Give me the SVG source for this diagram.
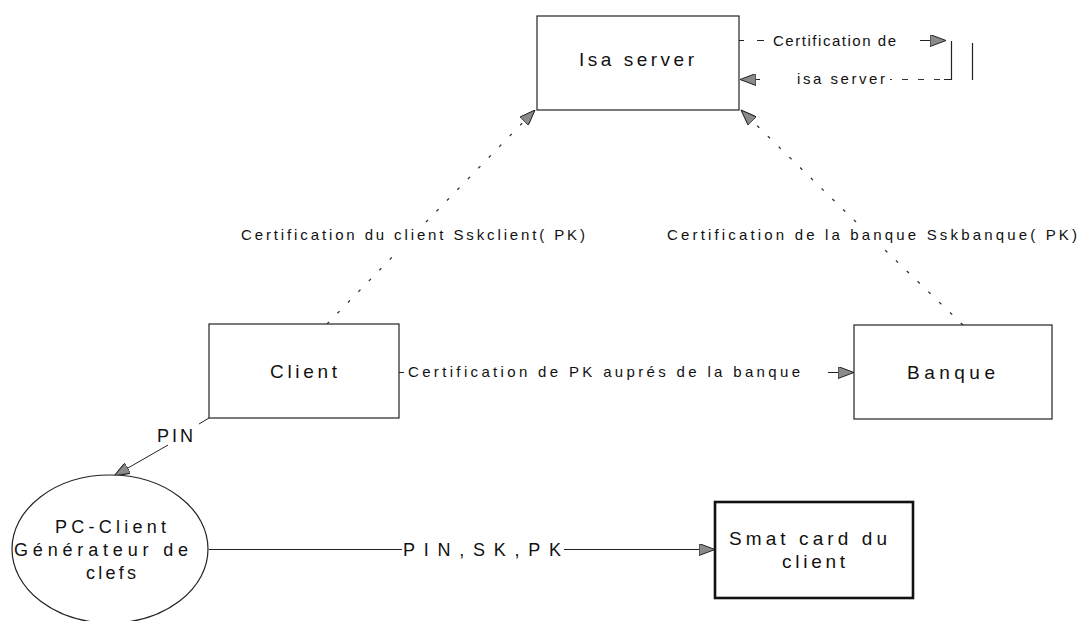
<svg xmlns="http://www.w3.org/2000/svg" width="1080" height="621" viewBox="0 0 1080 621">
<style>
.box{fill:#fff;stroke:#222;stroke-width:1.2}
.thick{fill:#fff;stroke:#111;stroke-width:2.6}
.node{font-family:"Liberation Sans",Arial,sans-serif;font-size:19px;fill:#111}
.lbl{font-family:"Liberation Sans",Arial,sans-serif;font-size:15px;fill:#111}
.big{font-family:"Liberation Sans",Arial,sans-serif;font-size:18px;fill:#111}
.solid{fill:none;stroke:#222;stroke-width:1}
.dash{fill:none;stroke:#333;stroke-width:1;stroke-dasharray:6,10}
.dot{fill:none;stroke:#333;stroke-width:1.3;stroke-dasharray:3,12}
</style>
<defs>
<marker id="ah" viewBox="0 0 16 12" refX="16" refY="6" markerWidth="16" markerHeight="12" markerUnits="userSpaceOnUse" orient="auto">
<path d="M0,0 L16,6 L0,12 Z" fill="#8a8a8a" stroke="#222" stroke-width="1"/>
</marker>
</defs>
<rect width="1080" height="621" fill="#fff"/>
<g id="connectors">
<!-- self loop on Isa server -->
<line class="solid" x1="739" y1="40.5" x2="744" y2="40.5"/>
<line class="solid" x1="757" y1="40.5" x2="764" y2="40.5"/>
<line class="solid" x1="920" y1="40.5" x2="946" y2="40.5" marker-end="url(#ah)"/>
<path d="M951.5,41 V79.5 H944" fill="none" stroke="#222" stroke-width="1.2"/>
<path d="M972.5,43 V80" fill="none" stroke="#222" stroke-width="1.2"/>
<line class="dash" x1="940" y1="79.5" x2="890" y2="79.5"/>
<line class="solid" x1="780" y1="79.5" x2="740" y2="79.5" stroke-dasharray="0,20,6,30" marker-end="url(#ah)"/>
<!-- client to isa -->
<line class="dot" x1="327" y1="324" x2="399" y2="250"/>
<line class="dot" x1="426" y1="222" x2="535" y2="110" marker-end="url(#ah)"/>
<!-- banque to isa -->
<line class="dot" x1="963" y1="325" x2="885" y2="250"/>
<line class="dot" x1="856" y1="222" x2="741" y2="110" marker-end="url(#ah)"/>
<!-- client to banque -->
<line class="solid" x1="399" y1="372.5" x2="404" y2="372.5"/>
<line class="solid" x1="828" y1="372.5" x2="854" y2="372.5" marker-end="url(#ah)"/>
<!-- PIN -->
<line class="solid" x1="209" y1="418" x2="199" y2="424"/>
<line class="solid" x1="168" y1="445" x2="114" y2="476" marker-end="url(#ah)"/>
<!-- PIN,SK,PK -->
<line class="solid" x1="209" y1="549.5" x2="402" y2="549.5"/>
<line class="solid" x1="564" y1="549.5" x2="715" y2="549.5" marker-end="url(#ah)"/>
<!-- labels -->
<text class="lbl" x="773" y="46" textLength="123" lengthAdjust="spacing">Certification de</text>
<text class="lbl" x="797" y="84" textLength="88" lengthAdjust="spacing">isa server</text>
<text class="lbl" x="241" y="240" textLength="344" lengthAdjust="spacing">Certification du client Sskclient( PK)</text>
<text class="lbl" x="667" y="240" textLength="410" lengthAdjust="spacing">Certification de la banque Sskbanque( PK)</text>
<text class="lbl" x="408" y="377" textLength="392" lengthAdjust="spacing">Certification de PK auprés de la banque</text>
<text class="big" x="157" y="442" textLength="36" lengthAdjust="spacing">PIN</text>
<text class="big" x="403" y="556" textLength="158" lengthAdjust="spacing">PIN,SK,PK</text>
</g>
<g id="isa-server">
<rect class="box" x="537" y="16" width="202" height="94"/>
<text class="node" x="579" y="66" textLength="115" lengthAdjust="spacing">Isa server</text>
</g>
<g id="client">
<rect class="box" x="209" y="324" width="190" height="94"/>
<text class="node" x="270" y="378" textLength="67" lengthAdjust="spacing">Client</text>
</g>
<g id="banque">
<rect class="box" x="854" y="325" width="198" height="94"/>
<text class="node" x="907" y="379" textLength="88" lengthAdjust="spacing">Banque</text>
</g>
<g id="pc-client">
<ellipse class="box" cx="110" cy="549" rx="98" ry="74"/>
<text class="big" x="55" y="533" textLength="111" lengthAdjust="spacing">PC-Client</text>
<text class="big" x="14" y="556" textLength="174" lengthAdjust="spacing">Générateur de</text>
<text class="big" x="86" y="579" textLength="50" lengthAdjust="spacing">clefs</text>
</g>
<g id="smartcard">
<rect class="thick" x="715" y="502" width="198" height="96"/>
<text class="node" x="729" y="545" textLength="158" lengthAdjust="spacing">Smat card du</text>
<text class="node" x="782" y="568" textLength="63" lengthAdjust="spacing">client</text>
</g>
</svg>
